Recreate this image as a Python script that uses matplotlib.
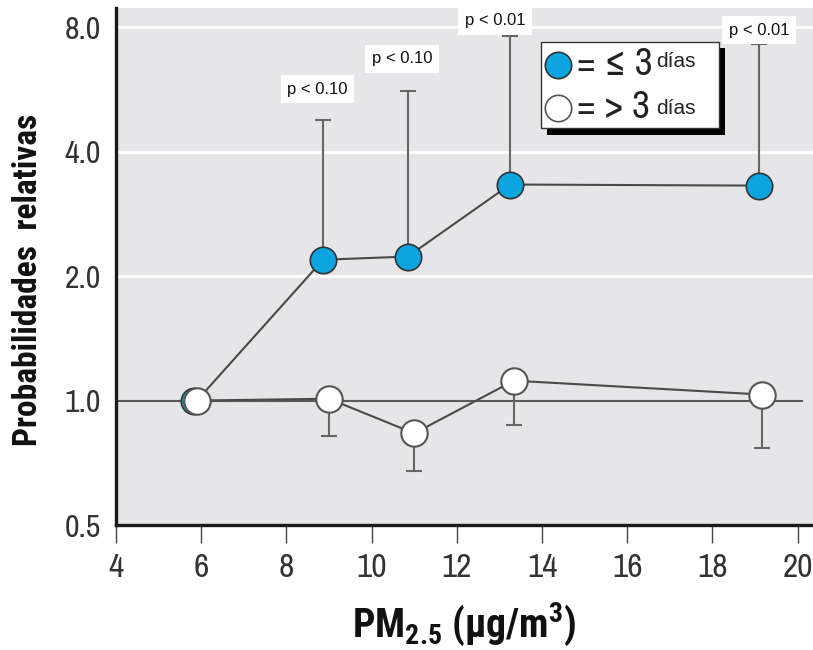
import matplotlib
matplotlib.use("Agg")
import matplotlib.pyplot as plt
from matplotlib.patches import Rectangle

# concentraciones de PM2.5 (ug/m3) por categoria
pm_corto = [5.83, 8.86, 10.85, 13.25, 19.09]
pm_largo = [5.90, 9.00, 11.00, 13.34, 19.16]

# probabilidades relativas, <= 3 dias y > 3 dias
pr_corto = [1.0, 2.19, 2.23, 3.33, 3.31]
pr_corto_sup = [1.0, 4.78, 5.61, 7.61, 7.28]
pr_largo = [1.0, 1.01, 0.833, 1.117, 1.034]
pr_largo_inf = [1.0, 0.819, 0.674, 0.875, 0.766]

p_textos = ["", "p < 0.10", "p < 0.10", "p < 0.01", "p < 0.01"]
p_offsets = [(0, 0), (-4, 22), (-4, 23), (-11, 11), (0, 10)]

y_ticks = [0.5, 1.0, 2.0, 4.0, 8.0]
x_ticks = list(range(4, 21, 2))

NARROW = ["Archivo Narrow", "DejaVu Sans"]
NEGRITA = ["Roboto Condensed", "Barlow Semi Condensed", "DejaVu Sans"]
AZUL = "#0aa5e0"
GRIS = "#5a5a5a"

plt.rcParams["mathtext.fontset"] = "custom"
plt.rcParams["mathtext.rm"] = "Roboto Condensed:bold"
plt.rcParams["mathtext.bf"] = "Roboto Condensed:bold"

fig = plt.figure(figsize=(8.13, 6.5), dpi=100)
ax = fig.add_axes([0.1427, 0.1923, 0.8573, 0.7954])
ax.set_facecolor("#e6e6e8")

ax.set_yscale("log", base=2)
ax.set_ylim(0.505, 8.9)
ax.set_xlim(4, 20.36)

for g in [2.0, 4.0, 8.0]:
    ax.axhline(g, color="white", lw=2, zorder=1)
ax.plot([4, 20.1], [1.0, 1.0], color=GRIS, lw=1.5, zorder=2)

# error superior (<= 3 dias) e inferior (> 3 dias)
err_c = [[0] * len(pr_corto), [s - v for s, v in zip(pr_corto_sup, pr_corto)]]
err_l = [[v - i for v, i in zip(pr_largo, pr_largo_inf)], [0] * len(pr_largo)]
ax.errorbar(pm_corto[1:], pr_corto[1:], yerr=[e[1:] for e in err_c], fmt="none",
            ecolor="#666666", elinewidth=1.5, capsize=6, capthick=1.5, zorder=3)
ax.errorbar(pm_largo[1:], pr_largo[1:], yerr=[e[1:] for e in err_l], fmt="none",
            ecolor="#666666", elinewidth=1.5, capsize=6, capthick=1.5, zorder=3)

ax.plot(pm_largo[:1] + pm_corto[1:], pr_corto, color="#4a4a4a", lw=1.5, zorder=4)
ax.plot(pm_largo, pr_largo, color="#4a4a4a", lw=1.5, zorder=4)
ax.plot(pm_corto, pr_corto, "o", ms=19, mfc=AZUL, mec="#333333", mew=1.2,
        ls="none", zorder=5)
ax.plot(pm_largo, pr_largo, "o", ms=19, mfc="white", mec="#555555", mew=1.5,
        ls="none", zorder=6)

for x, y, t, off in zip(pm_corto, pr_corto_sup, p_textos, p_offsets):
    if t:
        ax.annotate(t, (x, y), xytext=off, textcoords="offset points",
                    ha="center", va="center", fontsize=12,
                    family="Liberation Sans", color="#111111", zorder=7,
                    bbox=dict(boxstyle="square,pad=0.4", fc="white", ec="none"))

ax.set_yticks(y_ticks)
ax.set_yticklabels([f"{v:.1f}" for v in y_ticks])
ax.yaxis.set_minor_locator(matplotlib.ticker.NullLocator())
ax.set_xticks(x_ticks)
ax.tick_params(axis="y", length=0, pad=11, labelsize=23, labelcolor="#333333")
ax.tick_params(axis="x", length=13, width=1, pad=7, labelsize=24,
               labelcolor="#333333", color="#444444")
for lab in ax.get_xticklabels() + ax.get_yticklabels():
    lab.set_family(NARROW)

for s in ["top", "right"]:
    ax.spines[s].set_visible(False)
ax.spines["left"].set_linewidth(2.4)
ax.spines["bottom"].set_linewidth(2.4)
ax.spines["left"].set_color("#1a1a1a")
ax.spines["bottom"].set_color("#1a1a1a")

ax.set_ylabel("Probabilidades  relativas", fontsize=24, fontweight="bold",
              family=NEGRITA, color="#111111")
ax.yaxis.set_label_coords(-0.103, 0.474)
ax.set_xlabel("PM$_{2.5}$ (\u03bcg/m$^{3}$)", fontsize=28.5,
              fontweight="bold", family=NEGRITA, color="#111111")
ax.xaxis.set_label_coords(0.5, -0.145)

# leyenda dibujada a mano con sombra negra
ax.add_patch(Rectangle((0.6186, 0.755), 0.255, 0.168, transform=ax.transAxes,
                       fc="black", ec="none", zorder=8, clip_on=False))
ax.add_patch(Rectangle((0.610, 0.767), 0.255, 0.168, transform=ax.transAxes,
                       fc="white", ec="#333333", lw=1, zorder=9, clip_on=False))
ax.plot([0.634], [0.890], "o", ms=19, mfc=AZUL, mec="#333333", mew=1.2,
        transform=ax.transAxes, zorder=10, clip_on=False)
ax.plot([0.634], [0.807], "o", ms=19, mfc="white", mec="#555555", mew=1.2,
        transform=ax.transAxes, zorder=10, clip_on=False)
t1 = ax.text(0.662, 0.890, "= \u2264 3", transform=ax.transAxes, fontsize=28,
             family=NARROW, color="#222222", va="center", zorder=10)
t2 = ax.text(0.662, 0.807, "= > 3", transform=ax.transAxes, fontsize=28,
             family=NARROW, color="#222222", va="center", zorder=10)
ax.annotate("d\u00edas", xy=(1, 0.88), xycoords=t1, xytext=(2, 0),
            textcoords="offset points", fontsize=15, family="Liberation Sans",
            color="#222222", va="top", zorder=10)
ax.annotate("d\u00edas", xy=(1, 0.2), xycoords=t2, xytext=(4, 0),
            textcoords="offset points", fontsize=15, family="Liberation Sans",
            color="#222222", va="bottom", zorder=10)

fig.savefig("out.png", dpi=100)
